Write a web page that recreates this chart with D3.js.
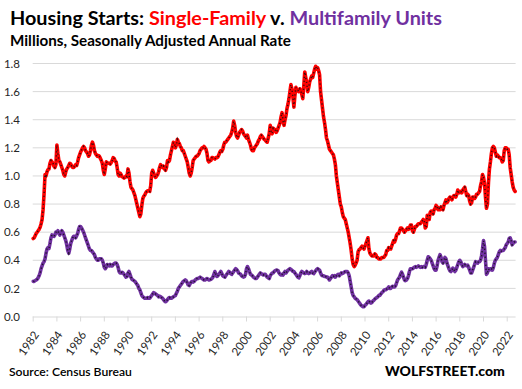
<!DOCTYPE html>
<html>
<head>
<meta charset="utf-8">
<script src="https://cdn.jsdelivr.net/npm/d3@7"></script>
<style>
  html, body { margin: 0; padding: 0; background: #fff; }
  svg { display: block; }
  text { font-family: Lato, "Open Sans", "DejaVu Sans", sans-serif; }
</style>
</head>
<body>
<svg id="chart" width="522" height="389"></svg>
<script>
// Tick labels (one every 24 months, starting Jan 1982)
const yearLabels = ["1982","1984","1986","1988","1990","1992","1994","1996","1998","2000",
  "2002","2004","2006","2008","2010","2012","2014","2016","2018","2020","2022"];
const yTicks = [0, 200, 400, 600, 800, 1000, 1200, 1400, 1600, 1800]; // thousands

// Monthly SAAR, thousands of units, Jan 1982 – Sep 2022
const singleFamily = [
  555,560,575,590,600,610,620,635,660,690,760,870,
  1010,1000,1030,1045,1050,1090,1110,1100,1090,1070,1060,1080,
  1220,1160,1110,1100,1080,1060,1040,1010,1000,1030,1050,1060,
  1075,1090,1085,1070,1060,1060,1070,1080,1075,1100,1130,1150,
  1170,1185,1200,1210,1200,1180,1170,1160,1140,1150,1180,1220,
  1240,1220,1180,1160,1150,1140,1145,1140,1125,1110,1090,1040,
  1010,1050,1100,1095,1090,1090,1085,1095,1110,1130,1125,1105,
  1100,1060,1010,1000,1020,1010,995,990,985,990,1000,995,
  1050,1020,960,920,910,900,880,860,830,800,770,740,
  710,730,790,840,855,865,880,890,895,895,890,930,
  1020,1040,1020,1000,990,1000,1010,1030,1060,1080,1070,1060,
  1070,1050,1040,1060,1110,1100,1110,1150,1180,1210,1240,1230,
  1200,1220,1260,1240,1230,1210,1200,1180,1180,1160,1140,1120,
  1100,1060,1020,1000,1020,1060,1110,1120,1130,1140,1140,1150,
  1160,1180,1190,1200,1200,1210,1200,1190,1160,1110,1100,1110,
  1110,1130,1130,1125,1120,1130,1130,1135,1150,1170,1180,1175,
  1190,1220,1240,1240,1250,1260,1270,1280,1290,1310,1340,1390,
  1360,1310,1280,1270,1290,1310,1320,1330,1320,1300,1290,1280,
  1270,1290,1260,1240,1220,1190,1180,1180,1200,1210,1220,1230,
  1250,1260,1280,1290,1280,1270,1260,1255,1245,1240,1270,1300,
  1360,1320,1300,1340,1330,1330,1310,1320,1340,1360,1380,1420,
  1450,1390,1360,1400,1430,1480,1510,1550,1600,1650,1620,1560,
  1490,1570,1630,1610,1610,1600,1620,1610,1580,1550,1640,1740,
  1700,1660,1600,1630,1670,1690,1710,1700,1730,1760,1780,1760,
  1770,1750,1720,1600,1540,1480,1420,1380,1330,1270,1250,1220,
  1190,1180,1170,1160,1150,1120,1080,1000,950,900,850,800,
  780,740,710,700,690,660,630,600,560,520,470,410,
  370,355,365,380,400,460,475,480,490,500,490,480,
  500,520,540,560,480,450,440,430,430,430,445,440,
  420,420,410,410,410,420,420,420,430,440,470,470,
  490,480,480,500,520,540,530,550,580,590,590,610,
  630,630,620,610,600,610,620,630,620,630,650,650,
  610,600,620,640,640,650,660,660,660,670,680,690,
  680,630,640,720,710,690,740,750,740,730,760,770,
  790,780,760,770,760,780,770,760,790,810,830,810,
  820,840,850,840,830,850,860,860,850,870,900,880,
  880,890,880,900,910,920,890,860,870,860,820,800,
  810,850,850,840,850,870,870,880,890,930,960,1010,
  990,950,850,770,800,950,1050,1100,1160,1200,1210,1200,
  1170,1140,1150,1140,1130,1130,1120,1100,1110,1180,1200,1200,
  1190,1190,1150,1060,1010,960,920,900,890
];
const multiFamily = [
  250,250,255,260,265,275,290,310,340,360,380,390,
  410,450,480,490,485,520,560,580,575,570,580,600,
  600,610,590,580,600,610,600,580,560,540,510,470,
  450,480,520,540,560,570,570,560,575,590,620,640,
  640,630,615,600,580,560,540,520,500,480,470,470,
  460,450,440,420,410,400,400,410,410,410,400,380,
  350,340,350,370,365,360,370,360,360,370,375,380,
  380,370,350,320,310,310,315,310,300,290,280,285,
  310,320,300,280,265,260,255,250,240,230,220,200,
  190,170,150,140,135,130,130,130,135,130,130,140,
  150,160,170,165,160,155,150,140,145,140,135,130,
  120,110,105,110,120,130,135,130,130,135,140,145,
  150,165,180,200,210,220,230,240,250,255,260,255,
  240,225,220,235,245,250,245,250,260,265,270,270,
  275,280,275,270,265,260,260,265,270,265,260,262,
  265,270,280,300,320,300,285,290,300,310,320,305,
  290,285,280,290,300,310,320,315,305,300,310,320,
  330,340,335,325,310,305,300,290,285,280,285,300,
  340,355,340,320,300,295,290,280,275,270,270,280,
  290,300,310,305,300,295,300,300,290,280,275,270,
  290,300,310,310,320,325,330,330,325,310,300,295,
  300,295,310,320,310,320,330,335,340,335,330,320,
  320,310,300,290,280,275,290,310,320,315,310,305,
  310,320,310,305,310,315,320,310,305,315,325,335,
  340,335,330,310,295,290,290,285,285,280,280,270,
  260,270,280,290,285,290,280,290,295,300,290,300,
  310,305,310,315,320,320,320,310,290,250,210,170,
  150,140,130,125,120,110,100,90,80,75,70,70,
  80,85,95,105,110,100,95,100,110,115,125,130,
  135,140,150,150,160,170,175,185,190,190,195,200,
  210,200,200,210,215,210,210,220,240,260,270,280,
  300,315,300,280,260,255,260,270,290,320,340,340,
  340,345,350,355,350,355,360,355,350,355,350,355,
  355,350,370,400,425,420,410,400,380,360,340,330,
  330,360,400,420,440,420,390,380,400,420,410,380,
  360,340,325,320,330,345,335,320,330,350,370,390,
  400,390,370,355,360,370,365,360,365,350,330,310,
  310,330,350,370,390,385,380,390,390,400,430,480,
  540,500,400,300,310,340,330,340,340,330,350,380,
  400,410,420,440,460,470,465,470,470,480,490,510,
  520,530,555,560,540,510,520,530,530
];

const svg = d3.select("#chart");
const n = singleFamily.length;
const plotL = 32.7, plotR = 515.6, plotT = 63.5, plotB = 316.5;

const x = d3.scaleLinear().domain([0, n]).range([plotL, plotR]);
const y = d3.scaleLinear().domain([0, 1800]).range([plotB, plotT]);

function fitText(sel, width) {
  const node = sel.node();
  const fs = parseFloat(sel.attr("font-size"));
  const w = node.getComputedTextLength();
  sel.attr("font-size", (fs * width / w).toFixed(2));
}

// Gridlines
svg.append("g")
  .selectAll("line")
  .data(yTicks.filter(d => d > 0))
  .join("line")
  .attr("x1", plotL).attr("x2", plotR)
  .attr("y1", d => y(d)).attr("y2", d => y(d))
  .attr("stroke", "#d9d9d9").attr("stroke-width", 1);

// Y axis labels
const yAxis = d3.axisLeft(y).tickValues(yTicks).tickSize(0).tickPadding(0)
  .tickFormat(d => (d / 1000).toFixed(1));
const gy = svg.append("g").attr("transform", "translate(20,0)").call(yAxis);
gy.select(".domain").remove();
gy.selectAll("text").attr("font-size", 11.5).attr("fill", "#262626")
  .attr("font-family", "Lato, sans-serif");

// X axis
const tickIdx = yearLabels.map((d, i) => i * 24);
const xAxis = d3.axisBottom(x).tickValues(tickIdx).tickSize(5)
  .tickFormat((d, i) => yearLabels[i]);
const gx = svg.append("g").attr("transform", `translate(0,${plotB})`).call(xAxis);
gx.select(".domain").attr("stroke", "#d9d9d9").attr("d", `M${plotL},0.5H${plotR}`);
gx.selectAll(".tick line").attr("stroke", "#d9d9d9");
gx.selectAll(".tick text")
  .attr("font-size", 11.5).attr("fill", "#262626")
  .attr("font-family", "Lato, sans-serif")
  .attr("text-anchor", "end")
  .attr("dy", "0.35em")
  .attr("y", 0)
  .attr("transform", "translate(3,16) rotate(-55)");

// Lines
const line = d3.line().x((d, i) => x(i + 0.5)).y(d => y(d)).curve(d3.curveLinear);
function drawSeries(data, color) {
  svg.append("path").datum(data).attr("d", line)
    .attr("fill", "none").attr("stroke", color).attr("stroke-width", 3.6)
    .attr("stroke-linejoin", "round").attr("stroke-linecap", "round");
  svg.append("path").datum(data).attr("d", line)
    .attr("fill", "none").attr("stroke", "#111").attr("stroke-width", 1.5)
    .attr("stroke-dasharray", "1.2,2.8").attr("stroke-opacity", 0.85);
}
drawSeries(singleFamily, "#ff0000");
drawSeries(multiFamily, "#7030a0");

// Title
const title = svg.append("text").attr("x", 10).attr("y", 25)
  .attr("font-size", 20).attr("font-weight", "bold").attr("font-family", "Lato, sans-serif");
title.append("tspan").text("Housing Starts: ").attr("fill", "#000");
title.append("tspan").text("Single-Family").attr("fill", "#ff0000");
title.append("tspan").text(" v. ").attr("fill", "#000");
title.append("tspan").text("Multifamily Units").attr("fill", "#7030a0");
fitText(title, 432);

const sub = svg.append("text").attr("x", 10).attr("y", 46)
  .attr("font-size", 16).attr("font-weight", "bold").attr("fill", "#000")
  .attr("font-family", "Lato, sans-serif")
  .text("Millions, Seasonally Adjusted Annual Rate");
fitText(sub, 281);

const src = svg.append("text").attr("x", 9).attr("y", 376)
  .attr("font-size", 12).attr("font-weight", "600").attr("fill", "#000")
  .attr("font-family", "Lato, sans-serif")
  .text("Source: Census Bureau");
fitText(src, 123);

const wolf = svg.append("text").attr("x", 385).attr("y", 376)
  .attr("font-size", 13).attr("font-weight", "900").attr("fill", "#000")
  .attr("font-family", "Lato, sans-serif")
  .text("WOLFSTREET.com");
fitText(wolf, 120);
</script>
</body>
</html>
